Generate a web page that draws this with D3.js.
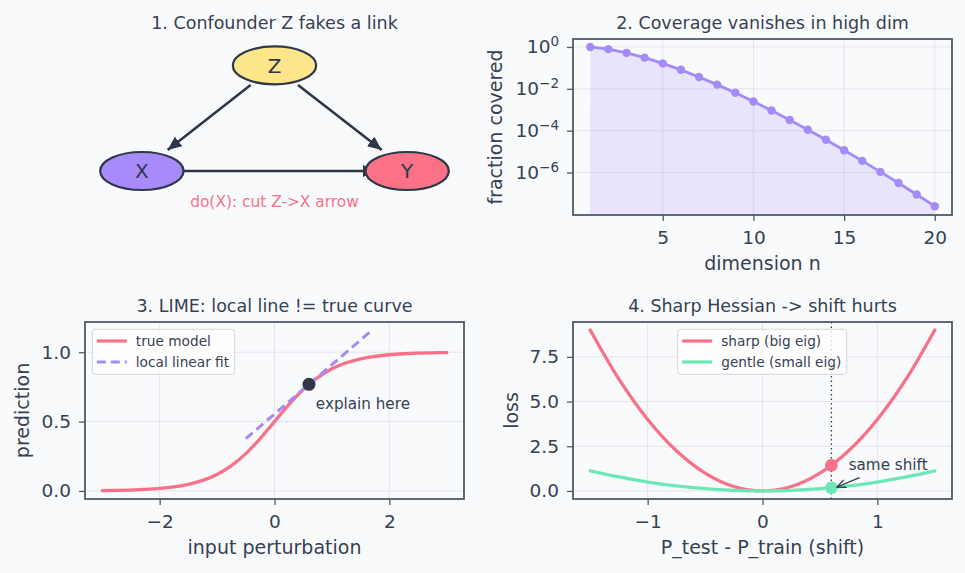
<!DOCTYPE html>
<html>
<head>
<meta charset="utf-8">
<title>Four panels</title>
<script src="https://d3js.org/d3.v7.min.js"></script>
<style>
    body { margin: 0; background: #f9fafc; }
    svg { display: block; font-family: "DejaVu Sans", sans-serif; }
</style>
</head>
<body>
<div id="chart"></div>
<script>
// ---- panel 1: causal diagram (data units 0..1)
const nodeNames = ["Z", "X", "Y"];
const nodeX = [0.5, 0.15, 0.85];
const nodeY = [0.85, 0.25, 0.25];
const nodeColors = ["#fde68a", "#a78bfa", "#fb7185"];
// x1, y1, x2, y2
const edges = [
    [0.437, 0.739, 0.218, 0.369],
    [0.562, 0.739, 0.783, 0.369],
    [0.261, 0.25, 0.77, 0.25]
];

// ---- panel 2: fraction of cube covered by inscribed ball
const dims = [1, 2, 3, 4, 5, 6, 7, 8, 9, 10, 11, 12, 13, 14, 15, 16, 17, 18, 19, 20];
const coverage = [1, 0.7854, 0.5236, 0.3084, 0.1645, 0.08075, 0.03691, 0.01585, 0.006442, 0.002490,
    0.0009200, 0.0003260, 0.0001112, 3.658e-5, 1.164e-5, 3.591e-6, 1.076e-6, 3.134e-7, 8.892e-8, 2.461e-8];
const logTicks = [1, 1e-2, 1e-4, 1e-6];
const logTickExp = ["0", "\u22122", "\u22124", "\u22126"];

// ---- panel 3: LIME
const perturbX = [-3, -2.75, -2.5, -2.25, -2, -1.75, -1.5, -1.25, -1, -0.75, -0.5, -0.25, 0,
    0.25, 0.5, 0.75, 1, 1.25, 1.5, 1.75, 2, 2.25, 2.5, 2.75, 3];
const trueModel = [0.0025, 0.0041, 0.0067, 0.0110, 0.0180, 0.0293, 0.0474, 0.0759, 0.1192, 0.1824, 0.2689, 0.3775, 0.5,
    0.6225, 0.7311, 0.8176, 0.8808, 0.9241, 0.9526, 0.9707, 0.9820, 0.9890, 0.9933, 0.9959, 0.9975];
const fitX = [-0.5, 1.7];
const fitY = [0.377, 1.160];
const explainAt = [0.6, 0.769];

// ---- panel 4: sharp vs gentle loss
const shiftX = [-1.5, -1.25, -1, -0.75, -0.5, -0.25, 0, 0.25, 0.5, 0.75, 1, 1.25, 1.5];
const sharpLoss = [9, 6.25, 4, 2.25, 1, 0.25, 0, 0.25, 1, 2.25, 4, 6.25, 9];
const gentleLoss = [1.125, 0.781, 0.5, 0.281, 0.125, 0.031, 0, 0.031, 0.125, 0.281, 0.5, 0.781, 1.125];
const shiftAt = 0.6;
const sharpAt = 1.44;
const gentleAt = 0.18;

const W = 965, H = 573;
const ink = "#364152";
const spine = "#525866";
const gridCol = "#e3e5eb";
const pink = "#f87189", purple = "#a48bf8", green = "#6ee7b7", dark = "#2d3748";

const svg = d3.select("#chart").append("svg")
    .attr("width", W).attr("height", H)
    .attr("viewBox", `0 0 ${W} ${H}`);
svg.append("rect").attr("width", W).attr("height", H).attr("fill", "#f9fafc");

const defs = svg.append("defs");
defs.append("marker").attr("id", "head")
    .attr("viewBox", "0 -6 14 12").attr("refX", 14).attr("refY", 0)
    .attr("markerWidth", 14).attr("markerHeight", 12)
    .attr("markerUnits", "userSpaceOnUse").attr("orient", "auto")
    .append("path").attr("d", "M0,-6L14,0L0,6Z").attr("fill", dark);
defs.append("marker").attr("id", "open")
    .attr("viewBox", "0 -5 10 10").attr("refX", 9).attr("refY", 0)
    .attr("markerWidth", 10).attr("markerHeight", 10)
    .attr("markerUnits", "userSpaceOnUse").attr("orient", "auto")
    .append("path").attr("d", "M0,-4L9,0L0,4").attr("fill", "none")
    .attr("stroke", dark).attr("stroke-width", 1.3);

const colLeft = [85, 464], colRight = [573, 952];
const rowTop = [215, 39], rowBottom = [499, 322];

function title(cx, yTop, text) {
    svg.append("text").attr("x", cx).attr("y", yTop - 10.5)
        .attr("text-anchor", "middle").attr("font-size", 17.5).attr("fill", ink)
        .text(text);
}

// grid + axes + labels for a panel
function axes(x, y, xTicks, yTicks, yFmt, xLabel, yLabel, yLabelGap) {
    const [x0, x1] = x.range();
    const [y0, y1] = y.range();
    const g = svg.append("g");
    g.append("g").selectAll("line").data(xTicks).join("line")
        .attr("x1", d => x(d)).attr("x2", d => x(d)).attr("y1", y0).attr("y2", y1)
        .attr("stroke", gridCol).attr("stroke-width", 1);
    g.append("g").selectAll("line").data(yTicks).join("line")
        .attr("y1", d => y(d)).attr("y2", d => y(d)).attr("x1", x0).attr("x2", x1)
        .attr("stroke", gridCol).attr("stroke-width", 1);

    const ax = svg.append("g").attr("transform", `translate(0,${y0})`)
        .call(d3.axisBottom(x).tickValues(xTicks).tickSize(6).tickPadding(9.5).tickFormat(d3.format("d")));
    const ay = svg.append("g").attr("transform", `translate(${x0},0)`)
        .call(d3.axisLeft(y).tickValues(yTicks).tickSize(6).tickPadding(8).tickFormat(yFmt));
    [ax, ay].forEach(a => {
        a.attr("font-size", 18.5).attr("font-family", null);
        a.select(".domain").remove();
        a.selectAll("line").attr("stroke", spine).attr("stroke-width", 1.3);
        a.selectAll("text").attr("fill", ink);
    });

    svg.append("text").attr("x", (x0 + x1) / 2).attr("y", y0 + 55)
        .attr("text-anchor", "middle").attr("font-size", 19).attr("fill", ink).text(xLabel);
    svg.append("text")
        .attr("transform", `translate(${x0 - yLabelGap},${(y0 + y1) / 2}) rotate(-90)`)
        .attr("text-anchor", "middle").attr("font-size", 19).attr("fill", ink).text(yLabel);
    return ay;
}

function spines(x, y) {
    const [x0, x1] = x.range();
    const [y0, y1] = y.range();
    svg.append("rect").attr("x", x0).attr("y", y1).attr("width", x1 - x0).attr("height", y0 - y1)
        .attr("fill", "none").attr("stroke", spine).attr("stroke-width", 1.8);
}

function clipFor(id, x, y) {
    const [x0, x1] = x.range();
    const [y0, y1] = y.range();
    defs.append("clipPath").attr("id", id).append("rect")
        .attr("x", x0).attr("y", y1).attr("width", x1 - x0).attr("height", y0 - y1);
    return svg.append("g").attr("clip-path", `url(#${id})`);
}

function legend(xl, yt, w, items) {
    const g = svg.append("g");
    g.append("rect").attr("x", xl).attr("y", yt).attr("width", w).attr("height", 45)
        .attr("rx", 3).attr("fill", "rgba(255,255,255,0.8)").attr("stroke", "#d2d5dc");
    items.forEach((it, i) => {
        const cy = yt + 11.7 + i * 21;
        g.append("line").attr("x1", xl + 4.5).attr("x2", xl + 34.5).attr("y1", cy).attr("y2", cy)
            .attr("stroke", it.color).attr("stroke-width", 3.2)
            .attr("stroke-dasharray", it.dash || null);
        g.append("text").attr("x", xl + 43.5).attr("y", cy).attr("dy", "0.35em")
            .attr("font-size", 13.7).attr("fill", ink).text(it.label);
    });
}

// ================= panel 1
{
    title((colLeft[0] + colLeft[1]) / 2, rowTop[1], "1. Confounder Z fakes a link");
    const x = d3.scaleLinear([0, 1], colLeft);
    const y = d3.scaleLinear([0, 1], rowTop);
    const rx = x(0.11) - x(0), ry = y(0) - y(0.108);
    svg.append("g").selectAll("line").data(edges).join("line")
        .attr("x1", d => x(d[0])).attr("y1", d => y(d[1]))
        .attr("x2", d => x(d[2])).attr("y2", d => y(d[3]))
        .attr("stroke", dark).attr("stroke-width", 2.6)
        .attr("marker-end", "url(#head)");
    const nodes = svg.append("g").selectAll("g").data(nodeNames).join("g")
        .attr("transform", (d, i) => `translate(${x(nodeX[i])},${y(nodeY[i])})`);
    nodes.append("ellipse").attr("rx", rx).attr("ry", ry)
        .attr("fill", (d, i) => nodeColors[i]).attr("stroke", dark).attr("stroke-width", 2.2);
    nodes.append("text").attr("text-anchor", "middle").attr("dy", "0.36em")
        .attr("font-size", 20).attr("fill", dark).text(d => d);
    svg.append("text").attr("x", x(0.5)).attr("y", y(0.074)).attr("dy", "0.35em")
        .attr("text-anchor", "middle").attr("font-size", 15.4).attr("fill", pink)
        .text("do(X): cut Z->X arrow");
}

// ================= panel 2
{
    title((colRight[0] + colRight[1]) / 2, rowTop[1], "2. Coverage vanishes in high dim");
    const x = d3.scaleLinear([0.05, 20.95], colRight);
    const y = d3.scaleLog([Math.pow(10, -8.03), Math.pow(10, 0.38)], rowTop);
    const ay = axes(x, y, [5, 10, 15, 20], logTicks, () => "", "dimension n", "fraction covered", 71);
    ay.selectAll(".tick text").each(function (d, i) {
        const t = d3.select(this);
        t.append("tspan").text("10");
        t.append("tspan").attr("font-size", 13.5).attr("dy", "-0.55em").text(logTickExp[i]);
    });
    const g = clipFor("c2", x, y);
    g.append("path").datum(dims)
        .attr("d", d3.area().x(d => x(d)).y0(y.range()[0]).y1((d, i) => y(coverage[i])))
        .attr("fill", purple).attr("fill-opacity", 0.2);
    g.append("path").datum(dims)
        .attr("d", d3.line().x(d => x(d)).y((d, i) => y(coverage[i])))
        .attr("fill", "none").attr("stroke", purple).attr("stroke-width", 2.8);
    g.append("g").selectAll("circle").data(dims).join("circle")
        .attr("cx", d => x(d)).attr("cy", (d, i) => y(coverage[i])).attr("r", 4.2)
        .attr("fill", purple);
    spines(x, y);
}

// ================= panel 3
{
    title((colLeft[0] + colLeft[1]) / 2, rowBottom[1], "3. LIME: local line != true curve");
    const x = d3.scaleLinear([-3.3, 3.3], colLeft);
    const y = d3.scaleLinear([-0.058, 1.218], rowBottom);
    axes(x, y, [-2, 0, 2], [0, 0.5, 1], d3.format(".1f"), "input perturbation", "prediction", 56);
    const g = clipFor("c3", x, y);
    g.append("path").datum(perturbX)
        .attr("d", d3.line().x(d => x(d)).y((d, i) => y(trueModel[i])).curve(d3.curveCatmullRom))
        .attr("fill", "none").attr("stroke", pink).attr("stroke-width", 3.3)
        .attr("stroke-linecap", "round");
    g.append("path").datum(fitX)
        .attr("d", d3.line().x(d => x(d)).y((d, i) => y(fitY[i])))
        .attr("fill", "none").attr("stroke", purple).attr("stroke-width", 3)
        .attr("stroke-dasharray", "9,5");
    g.append("circle").attr("cx", x(explainAt[0])).attr("cy", y(explainAt[1])).attr("r", 6.5)
        .attr("fill", dark);
    svg.append("text").attr("x", x(0.72)).attr("y", y(0.59))
        .attr("font-size", 15.2).attr("fill", ink).text("explain here");
    spines(x, y);
    legend(92.3, 329.3, 142.4, [
        { label: "true model", color: pink },
        { label: "local linear fit", color: purple, dash: "9,5" }
    ]);
}

// ================= panel 4
{
    title((colRight[0] + colRight[1]) / 2, rowBottom[1], "4. Sharp Hessian -> shift hurts");
    const x = d3.scaleLinear([-1.65, 1.65], colRight);
    const y = d3.scaleLinear([-0.45, 9.45], rowBottom);
    axes(x, y, [-1, 0, 1], [0, 2.5, 5, 7.5], d3.format(".1f"), "P_test - P_train (shift)", "loss", 55.5);
    const g = clipFor("c4", x, y);
    g.append("line").attr("x1", x(shiftAt)).attr("x2", x(shiftAt))
        .attr("y1", y.range()[0]).attr("y2", y.range()[1])
        .attr("stroke", dark).attr("stroke-width", 1.3).attr("stroke-dasharray", "1.5,3");
    const curve = (vals, col) => g.append("path").datum(shiftX)
        .attr("d", d3.line().x(d => x(d)).y((d, i) => y(vals[i])).curve(d3.curveCatmullRom))
        .attr("fill", "none").attr("stroke", col).attr("stroke-width", 3.3)
        .attr("stroke-linecap", "round");
    curve(sharpLoss, pink);
    curve(gentleLoss, green);
    g.append("circle").attr("cx", x(shiftAt)).attr("cy", y(sharpAt)).attr("r", 6.3).attr("fill", pink);
    g.append("circle").attr("cx", x(shiftAt)).attr("cy", y(gentleAt)).attr("r", 6.3).attr("fill", green);
    svg.append("line").attr("x1", x(0.845)).attr("y1", y(0.75)).attr("x2", x(0.648)).attr("y2", y(0.22))
        .attr("stroke", dark).attr("stroke-width", 1.3).attr("marker-end", "url(#open)");
    svg.append("text").attr("x", x(0.75)).attr("y", y(1.2))
        .attr("font-size", 15.2).attr("fill", ink).text("same shift");
    spines(x, y);
    legend(677.7, 329.3, 169, [
        { label: "sharp (big eig)", color: pink },
        { label: "gentle (small eig)", color: green }
    ]);
}
</script>
</body>
</html>
